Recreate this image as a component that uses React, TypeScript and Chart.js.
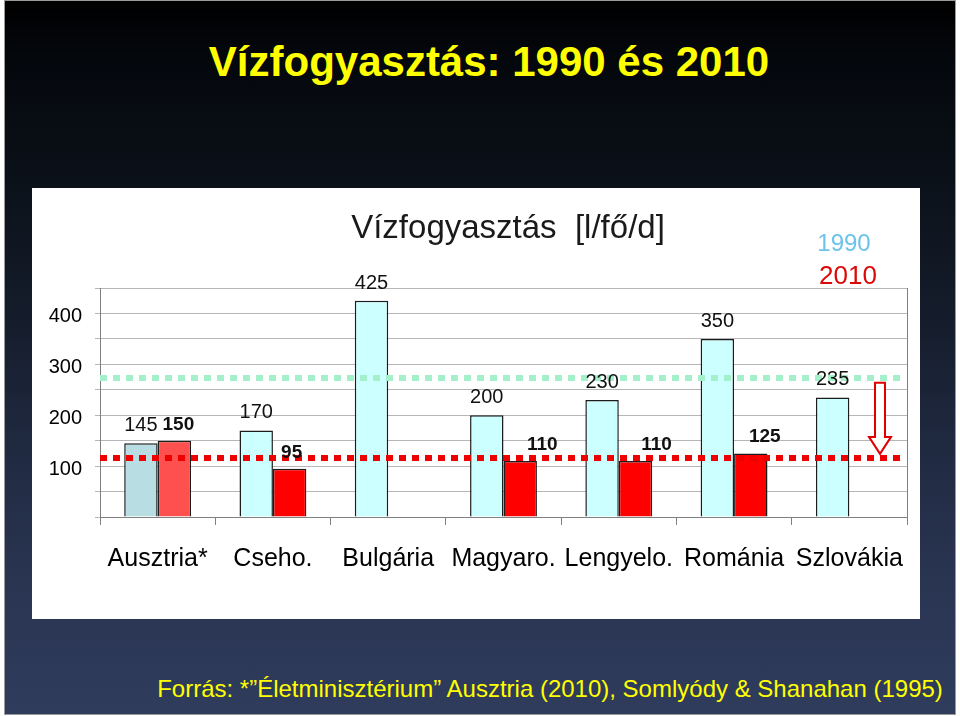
import React, { useEffect, useRef } from 'react';
import { Chart, registerables } from 'chart.js';

Chart.register(...registerables);

// ---- data ----
const CATEGORIES = ['Ausztria*', 'Cseho.', 'Bulgária', 'Magyaro.', 'Lengyelo.', 'Románia', 'Szlovákia'];
const VALUES_1990: (number | null)[] = [145, 170, 425, 200, 230, 350, 235];
const VALUES_2010: (number | null)[] = [150, 95, null, 110, 110, 125, null];
const Y_MIN = 0;
const Y_MAX = 450;
const Y_STEP = 50;
const Y_LABELED_TICKS = [100, 200, 300, 400];
const LEVEL_1990 = 274;
const LEVEL_2010 = 115;
const ARROW_FROM = 264;
const ARROW_TO = 124;
const SERIES_NAMES = ['1990', '2010'];

const SLIDE_TITLE = 'Vízfogyasztás: 1990 és 2010';
const CHART_TITLE = 'Vízfogyasztás  [l/fő/d]';
const SOURCE_TEXT = 'Forrás: *\u201DÉletminisztérium\u201D Ausztria (2010), Somlyódy & Shanahan (1995)';

// ---- styles ----
const FILL_1990 = ['#b8dee4', '#ccffff', '#ccffff', '#ccffff', '#ccffff', '#ccffff', '#ccffff'];
const FILL_2010 = ['#ff5050', '#ff0000', '#ff0000', '#ff0000', '#ff0000', '#ff0000', '#ff0000'];
const LABEL_DX_2010 = [4, 2, 0, 22, 21, 14, 0];
const ARIAL = "'Liberation Sans', Arial, Helvetica, sans-serif";
const AXIS = '#808080';
const GRID = '#b6b6b6';

const overlayPlugin = {
  id: 'overlay',
  afterDatasetsDraw(chart: any) {
    const { ctx, chartArea: ca, scales } = chart;
    const y = scales.y;
    ctx.save();

    // right plot border
    ctx.strokeStyle = AXIS;
    ctx.lineWidth = 1;
    ctx.beginPath();
    ctx.moveTo(Math.round(ca.right) + 0.5, ca.top);
    ctx.lineTo(Math.round(ca.right) + 0.5, ca.bottom);
    ctx.stroke();

    // dotted reference levels
    const level = (v: number, color: string) => {
      const py = Math.round(y.getPixelForValue(v));
      ctx.setLineDash([7, 6]);
      ctx.lineWidth = 6;
      ctx.strokeStyle = color;
      ctx.beginPath();
      ctx.moveTo(ca.left, py);
      ctx.lineTo(ca.right - 3, py);
      ctx.stroke();
    };
    level(LEVEL_1990, '#a3f0cb');
    level(LEVEL_2010, '#ee0000');
    ctx.setLineDash([]);

    // arrow
    const ax = ca.right - 27;
    const y0 = y.getPixelForValue(ARROW_FROM);
    const y1 = y.getPixelForValue(ARROW_TO);
    const headLen = 17;
    ctx.beginPath();
    ctx.moveTo(ax - 5, y0);
    ctx.lineTo(ax + 5, y0);
    ctx.lineTo(ax + 5, y1 - headLen);
    ctx.lineTo(ax + 11, y1 - headLen);
    ctx.lineTo(ax, y1);
    ctx.lineTo(ax - 11, y1 - headLen);
    ctx.lineTo(ax - 5, y1 - headLen);
    ctx.closePath();
    ctx.fillStyle = '#ffffff';
    ctx.fill();
    ctx.strokeStyle = '#e00000';
    ctx.lineWidth = 2;
    ctx.stroke();

    // value labels
    ctx.textAlign = 'center';
    ctx.textBaseline = 'alphabetic';
    ctx.fillStyle = '#111111';
    const m0 = chart.getDatasetMeta(0);
    ctx.font = `20px ${ARIAL}`;
    m0.data.forEach((el: any, i: number) => {
      const v = VALUES_1990[i];
      if (v == null) return;
      ctx.fillText(String(v), el.x, el.y - 12);
    });
    const m1 = chart.getDatasetMeta(1);
    ctx.font = `bold 19px ${ARIAL}`;
    m1.data.forEach((el: any, i: number) => {
      const v = VALUES_2010[i];
      if (v == null) return;
      ctx.fillText(String(v), el.x + LABEL_DX_2010[i], el.y - 11);
    });

    // chart title and series names
    ctx.fillStyle = '#1a1a1a';
    ctx.font = `33px ${ARIAL}`;
    ctx.fillText(CHART_TITLE, 476, 50);
    ctx.fillStyle = '#6cc4ec';
    ctx.font = `24px ${ARIAL}`;
    ctx.fillText(SERIES_NAMES[0], 812, 63);
    ctx.fillStyle = '#dd0808';
    ctx.font = `26px ${ARIAL}`;
    ctx.fillText(SERIES_NAMES[1], 816, 96);

    ctx.restore();
  },
};

function WaterChart() {
  const ref = useRef<HTMLCanvasElement | null>(null);
  useEffect(() => {
    if (!ref.current) return;
    const chart = new Chart(ref.current, {
      type: 'bar',
      data: {
        labels: CATEGORIES,
        datasets: [
          {
            label: SERIES_NAMES[0],
            data: VALUES_1990,
            backgroundColor: FILL_1990,
            borderColor: '#1c1c1c',
            borderWidth: 1.5,
            categoryPercentage: 0.58,
            barPercentage: 1,
          },
          {
            label: SERIES_NAMES[1],
            data: VALUES_2010,
            backgroundColor: FILL_2010,
            borderColor: '#1c1c1c',
            borderWidth: 1.5,
            categoryPercentage: 0.58,
            barPercentage: 1,
          },
        ],
      },
      options: {
        responsive: false,
        animation: false,
        layout: { padding: { top: 100, right: 13, left: 0, bottom: 0 } },
        plugins: { legend: { display: false }, tooltip: { enabled: false }, title: { display: false } },
        scales: {
          x: {
            grid: { offset: true, drawOnChartArea: false, drawTicks: true, tickLength: 8, color: AXIS },
            border: { color: AXIS },
            ticks: { color: '#000', font: { family: ARIAL, size: 25 }, padding: 19, maxRotation: 0, autoSkip: false },
            afterFit: (s: any) => { s.height = 102; s.paddingRight = 0; s.paddingLeft = 0; },
          },
          y: {
            min: Y_MIN,
            max: Y_MAX,
            grid: { color: GRID, tickLength: 5, drawTicks: true },
            border: { color: AXIS },
            ticks: {
              stepSize: Y_STEP,
              color: '#000',
              font: { family: ARIAL, size: 20 },
              padding: 13,
              labelOffset: 3,
              autoSkip: false,
              callback: (v: any) => (Y_LABELED_TICKS.includes(Number(v)) ? String(v) : ''),
            },
            afterFit: (s: any) => { s.width = 68; },
          },
        },
      },
      plugins: [overlayPlugin],
    });
    return () => chart.destroy();
  }, []);
  return <canvas ref={ref} width={888} height={431} style={{ display: 'block', width: 888, height: 431 }} />;
}

export default function App() {
  return (
    <div style={{ position: 'fixed', left: 0, top: 0, width: 960, height: 716, background: '#ffffff', overflow: 'hidden' }}>
      <div
        style={{
          position: 'absolute', left: 4, top: 0, width: 952, height: 715, boxSizing: 'border-box',
          border: '1px solid #9a9a9a',
          background: 'linear-gradient(to bottom, #000000 0%, #04070c 8%, #0b1119 25%, #151d2c 45%, #212b43 65%, #2a3552 82%, #2f3c5c 100%)',
        }}
      />
      <div
        style={{
          position: 'absolute', left: 9, top: 41, width: 960, textAlign: 'center', color: '#ffff00',
          fontFamily: ARIAL, fontWeight: 'bold', fontSize: 42, lineHeight: '42px', whiteSpace: 'nowrap',
        }}
      >
        {SLIDE_TITLE}
      </div>
      <div style={{ position: 'absolute', left: 32, top: 188, width: 888, height: 431, background: '#ffffff' }}>
        <WaterChart />
      </div>
      <div
        style={{
          position: 'absolute', left: 70, top: 676, width: 960, textAlign: 'center', color: '#ffff00',
          fontFamily: ARIAL, fontSize: 24, lineHeight: '25px', whiteSpace: 'nowrap',
        }}
      >
        {SOURCE_TEXT}
      </div>
    </div>
  );
}
